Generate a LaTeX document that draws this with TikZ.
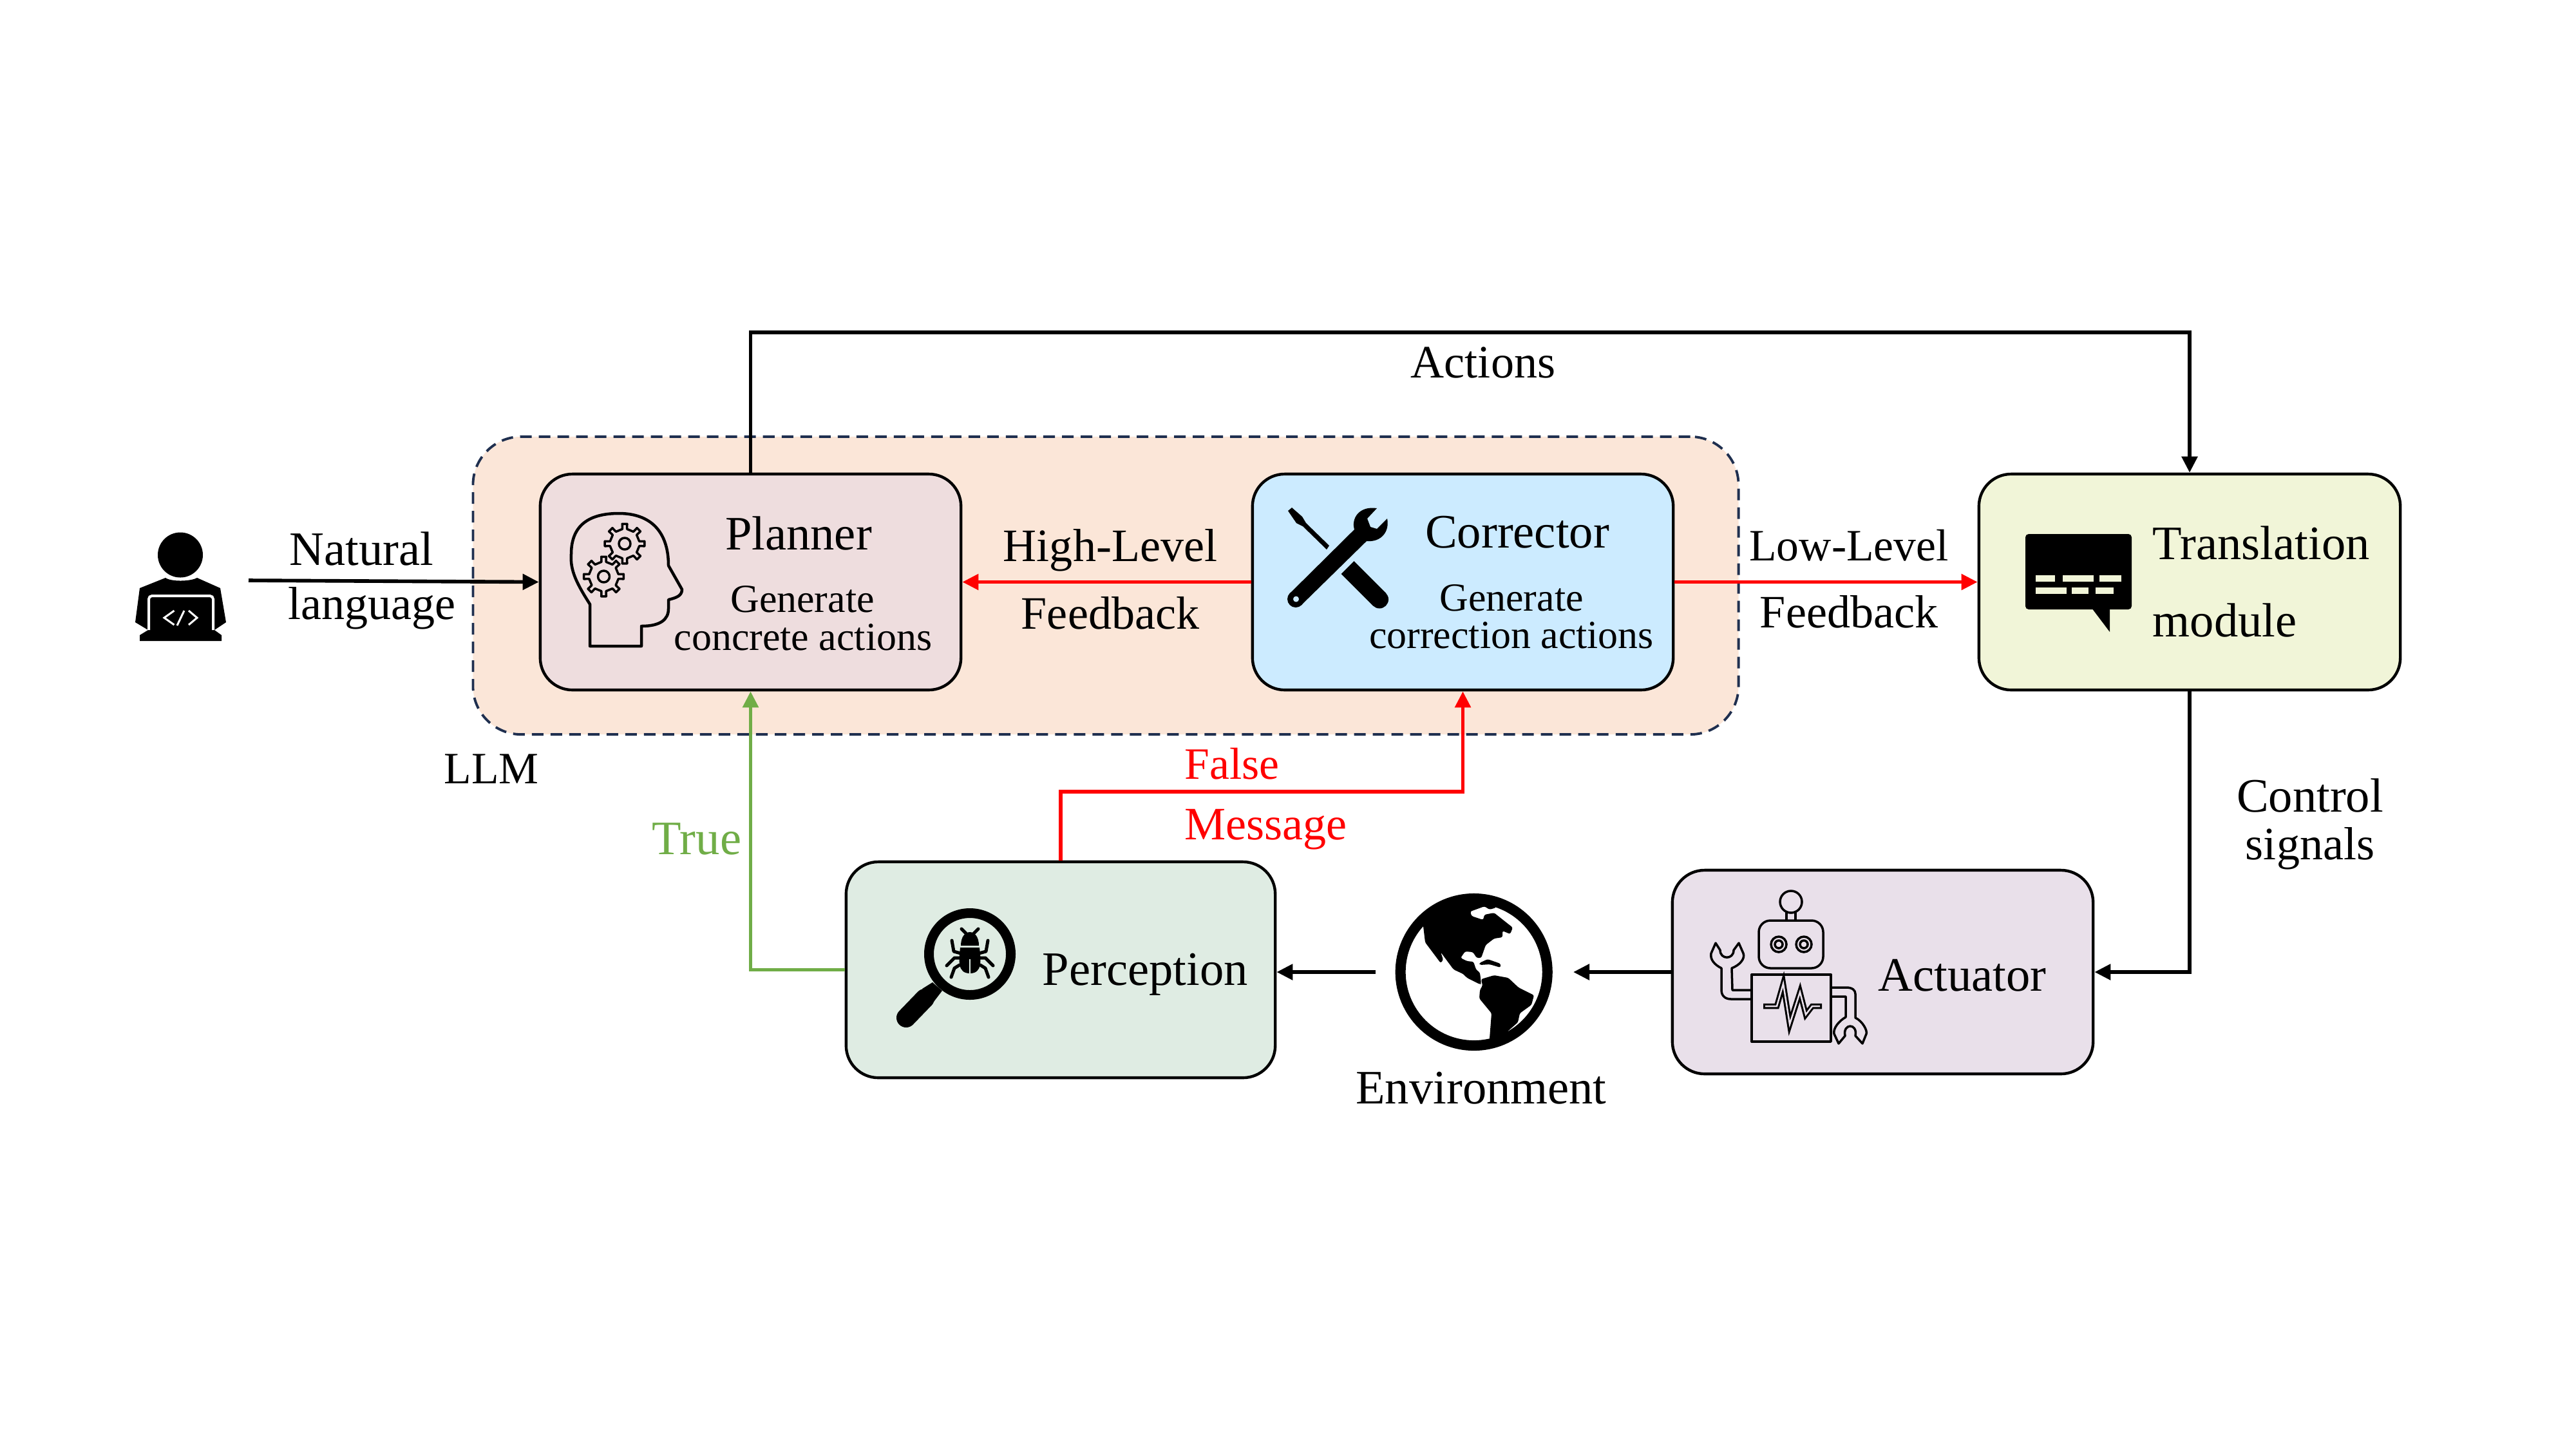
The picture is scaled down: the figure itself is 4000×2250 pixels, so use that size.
\documentclass[tikz,border=0pt]{standalone}
\usepackage{fontspec}
\setmainfont{Liberation Serif}
\usetikzlibrary{arrows.meta}
\definecolor{llmfill}{HTML}{FBE6D8}
\definecolor{llmdash}{HTML}{1F2F4F}
\definecolor{plannerfill}{HTML}{EEDDDE}
\definecolor{correctorfill}{HTML}{CCEBFF}
\definecolor{translationfill}{HTML}{F1F5D8}
\definecolor{perceptionfill}{HTML}{DFECE3}
\definecolor{actuatorfill}{HTML}{E9E0EA}
\definecolor{truegreen}{HTML}{70AD47}
\newcommand{\gearicon}[2]{%
    \draw[iconline, fill=plannerfill] ([shift={(#1,#2)}]-9:23)
        \foreach \a in {0,45,...,315} {
            -- ([shift={(#1,#2)}]\a-9:23) -- ([shift={(#1,#2)}]\a-7:31)
            -- ([shift={(#1,#2)}]\a+7:31) -- ([shift={(#1,#2)}]\a+9:23)
        } -- cycle;
    \draw[iconline] (#1,#2) circle (9);
}
\begin{document}
\begin{tikzpicture}[x=0.01cm, y=-0.01cm,
    blockbox/.style={draw, line width=1.25pt, rounded corners=0.5cm, minimum width=6.53cm, minimum height=3.35cm},
    bigtext/.style={font=\fontsize{21.2}{25}\selectfont, anchor=base, inner sep=0pt, yshift=-0.025cm},
    midtext/.style={bigtext, font=\fontsize{20.5}{25}\selectfont},
    lowtext/.style={bigtext, font=\fontsize{19.8}{25}\selectfont},
    smalltext/.style={font=\fontsize{17.6}{21}\selectfont, anchor=base, inner sep=0pt, yshift=-0.025cm},
    flow/.style={line width=1.6pt, -{Triangle[length=0.25cm, width=0.24cm]}},
    iconline/.style={line width=0.035cm, line join=round}]
    \useasboundingbox (0,0) rectangle (4000,2250);

    % LLM group
    \node[draw=llmdash, fill=llmfill, line width=1.1pt, rounded corners=0.75cm, dash pattern=on 0.18cm off 0.11cm, minimum width=19.64cm, minimum height=4.62cm] (llm) at (1717,909) {};
    \node[lowtext] (llmlabel) at (763,1214) {LLM};

    % Blocks
    \node[blockbox, fill=plannerfill] (planner) at (1165.5,903.5) {};
    \node[blockbox, fill=correctorfill] (corrector) at (2271.5,903.5) {};
    \node[blockbox, fill=translationfill, minimum width=6.54cm] (translation) at (3400,903.5) {};
    \node[blockbox, fill=perceptionfill, minimum width=6.66cm] (perception) at (1647,1505.5) {};
    \node[blockbox, fill=actuatorfill, minimum height=3.16cm] (actuator) at (2923.5,1509) {};

    % Block texts
    \node[bigtext] (plannertitle) at (1240,851) {Planner};
    \node[smalltext] (plannersub) at (1246,948) {Generate};
    \node[smalltext] (plannersubb) at (1247,1007) {concrete actions};
    \node[bigtext] (correctortitle) at (2356,848) {Corrector};
    \node[smalltext] (correctorsub) at (2347,946) {Generate};
    \node[smalltext] (correctorsubb) at (2347,1004) {correction actions};
    \node[bigtext, anchor=base west] (translationa) at (3342,866) {Translation};
    \node[bigtext, anchor=base west] (translationb) at (3342,986) {module};
    \node[bigtext, anchor=base west] (perceptionlabel) at (1618,1527) {Perception};
    \node[bigtext] (actuatorlabel) at (3047,1536) {Actuator};

    % User icon
    \fill (280,861.5) ellipse (35 and 35);
    \fill (257,897) .. controls (265,903) and (295,903) .. (306,897) -- (342,913) -- (351,966) -- (333,978)
        -- (344,986) -- (344,995) -- (217,995) -- (217,986) -- (230,978) -- (210,966) -- (217,913) -- cycle;
    \draw[white, line width=0.04cm, rounded corners=0.05cm] (231,978) -- (231,925) -- (331,925) -- (331,978);
    \draw[white, line width=0.03cm] (270.5,948) -- (255,959) -- (270.5,970);
    \draw[white, line width=0.03cm] (293,948) -- (306,959) -- (293,970);
    \draw[white, line width=0.03cm] (286,948) -- (275,971);
    \coordinate (userout) at (386,901);

    % Head icon
    \draw[iconline, line width=0.045cm] (916,1003) -- (916,938) .. controls (895,905) and (885,885) .. (887,860)
        .. controls (887,815) and (915,797) .. (961,797) .. controls (1010,797) and (1038,825) .. (1038,878)
        -- (1059,915) .. controls (1059,925) and (1050,928) .. (1038,931) -- (1038,945)
        .. controls (1038,962) and (1025,972) .. (996,972) -- (996,1003) -- cycle;
    \gearicon{970}{844}
    \gearicon{937.5}{895}

    % Tools icon
    \fill (2006,788) -- (2022,802) -- (2028,812) -- (2064,847) -- (2060,853) -- (2023,817) -- (2013,812) -- (2000,793) -- cycle;
    \draw[line width=0.28cm] (2092.5,881) -- (2142,930.5);
    \fill (2142,930.5) circle (14);
    \fill (2138,789) -- (2123,805) -- (2128,818) -- (2138,821) -- (2154,805) .. controls (2158,825) and (2145,842) .. (2122,840)
        -- (2021,939) -- (2003,921) -- (2103,822) .. controls (2098,805) and (2110,785) .. (2138,789) -- cycle;
    \fill (2012,930) circle (13);
    \fill[correctorfill] (2012.5,930) circle (4.5);

    % Speech bubble icon
    \fill[rounded corners=0.05cm] (3145,829) rectangle (3310,946);
    \fill (3245,940) -- (3276,981) -- (3276,940) -- cycle;
    \foreach \xa/\xb/\ya/\yb in {3161/3191/893/903, 3203/3251/893/903, 3260/3294/893/903, 3161/3209/912/922, 3217/3243/912/922, 3254/3282/912/922}
        \fill[translationfill] (\xa,\ya) rectangle (\xb,\yb);

    % Magnifier icon
    \draw[line width=0.15cm] (1506,1481) circle (63.5);
    \fill (1448,1525) -- (1463,1538) -- (1450,1555) -- (1432,1535) -- cycle;
    \draw[line width=0.3cm, line cap=round] (1407,1580) -- (1436,1550);
    % bug
    \fill (1492,1468) .. controls (1492,1455) and (1498,1447) .. (1506,1447) .. controls (1514,1447) and (1520,1455) .. (1520,1468) -- cycle;
    \fill (1491,1471) -- (1521,1471) .. controls (1523,1490) and (1526,1511) .. (1506,1511) .. controls (1486,1511) and (1489,1490) .. (1491,1471) -- cycle;
    \draw[perceptionfill, line width=0.02cm] (1506,1489) -- (1506,1511);
    \foreach \xa/\ya/\xb/\yb/\xc/\yc in {1493/1442/1500/1449/1500/1449, 1519/1442/1512/1449/1512/1449,
        1478/1460/1481/1477/1492/1480, 1534/1460/1531/1477/1520/1480,
        1470/1499/1482/1487/1492/1487, 1542/1499/1530/1487/1520/1487,
        1477/1517/1482/1503/1490/1498, 1535/1517/1530/1503/1522/1498}
        \draw[line width=0.05cm, line cap=round, line join=round] (\xa,\ya) -- (\xb,\yb) -- (\xc,\yc);

    % Globe icon
    \fill[rounded corners=0.025cm] (2210,1438) -- (2213,1463) -- (2237,1495) -- (2241,1490) -- (2237,1478) -- (2257,1505)
        -- (2272,1512) -- (2278,1518) -- (2298,1528) -- (2300,1527) -- (2298,1510) -- (2292,1505) -- (2288,1493)
        -- (2278,1492) -- (2268,1487) -- (2275,1477) -- (2287,1478) -- (2293,1487) -- (2300,1487) -- (2307,1467)
        -- (2320,1457) -- (2333,1455) -- (2333,1445) -- (2345,1450) -- (2349,1440) -- (2320,1417) -- (2305,1420)
        -- (2303,1428) -- (2285,1422) -- (2283,1415) -- (2305,1407) -- (2313,1412) -- (2323,1409) -- (2323,1395)
        -- (2250,1395) -- (2210,1420) -- cycle;
    \fill[rounded corners=0.025cm] (2297,1495) -- (2310,1489) -- (2330,1496) -- (2330,1502) -- (2313,1497) -- (2298,1498) -- cycle;
    \fill[rounded corners=0.025cm] (2300,1520) -- (2320,1514) -- (2342,1518) -- (2358,1533) -- (2382,1545) -- (2378,1560)
        -- (2360,1573) -- (2357,1587) -- (2340,1602) -- (2335,1620) -- (2313,1625) -- (2313,1612) -- (2316,1573)
        -- (2297,1550) -- (2298,1537) -- (2302,1530) -- cycle;
    \node[circle, draw, line width=0.16cm, minimum size=2.28cm] (globe) at (2288.7,1509) {};
    \coordinate (envin) at (2443,1509);
    \coordinate (envout) at (2136,1509);
    \node[bigtext] (envlabel) at (2300,1711) {Environment};

    % Robot icon
    \draw[iconline] (2781,1400) circle (17);
    \draw[iconline] (2774,1414) -- (2774,1429);
    \draw[iconline] (2788,1414) -- (2788,1429);
    \draw[iconline, rounded corners=0.18cm] (2731,1429) rectangle (2831,1503);
    \draw[iconline] (2762,1466) circle (12) circle (6);
    \draw[iconline] (2801,1466) circle (12) circle (6);
    \draw[iconline] (2720,1513) rectangle (2843,1617);
    \draw[iconline] (2720,1537) -- (2690,1537) -- (2689,1503) .. controls (2702,1498) and (2710,1488) .. (2707,1480)
        -- (2700,1464) -- (2692,1475) .. controls (2692,1490) and (2671,1490) .. (2671,1475) -- (2664,1464) -- (2657,1480)
        .. controls (2655,1490) and (2663,1498) .. (2673,1503) -- (2673,1537) .. controls (2673,1547) and (2680,1551) .. (2688,1551) -- (2720,1551);
    \draw[iconline] (2843,1533) -- (2867,1533) .. controls (2876,1533) and (2881,1537) .. (2881,1543) -- (2881,1580)
        .. controls (2892,1585) and (2900,1600) .. (2898,1605) -- (2892,1620) -- (2881,1608)
        .. controls (2885,1588) and (2861,1588) .. (2865,1608) -- (2855,1620) -- (2848,1605)
        .. controls (2846,1597) and (2855,1585) .. (2866,1579) -- (2866,1547) -- (2843,1547);
    \draw[line width=0.085cm, miter limit=10] (2738,1562) -- (2759,1562) -- (2769,1527) -- (2779,1590) -- (2795,1540) -- (2804,1575) -- (2814,1562) -- (2829,1562);
    \draw[actuatorfill, line width=0.025cm, miter limit=10] (2741,1562) -- (2759,1562) -- (2769,1527) -- (2779,1590) -- (2795,1540) -- (2804,1575) -- (2814,1562) -- (2826,1562);

    % Arrows
    \draw[flow] (userout) -- (planner.west);
    \draw[flow, red] (corrector.west) -- (planner.east);
    \draw[flow, red] (corrector.east) -- (translation.west);
    \draw[flow] (planner.north) -- ++(0,-218) -| (translation.north);
    \draw[flow] (translation.south) |- (actuator.east);
    \draw[flow] (actuator.west) -- (envin);
    \draw[flow] (envout) -- (envout -| perception.east);
    \draw[flow, truegreen] (perception.west) -| (planner.south);
    \draw[flow, red] (perception.north) |- (1900,1229) -| (corrector.south);

    % Arrow labels
    \node[bigtext, anchor=base west] (naturala) at (449,875) {Natural};
    \node[midtext, anchor=base west] (naturalb) at (447,959) {language};
    \node[midtext] (higha) at (1724,869) {High-Level};
    \node[midtext] (highb) at (1724,974) {Feedback};
    \node[lowtext] (lowa) at (2871,868) {Low-Level};
    \node[midtext] (lowb) at (2871,972) {Feedback};
    \node[midtext] (actionslabel) at (2303,584) {Actions};
    \node[bigtext, truegreen] (truelabel) at (1082,1324) {True};
    \node[lowtext, red, anchor=base west] (falsea) at (1839,1207) {False};
    \node[midtext, red, anchor=base west] (falseb) at (1839,1301) {Message};
    \node[bigtext] (controla) at (3587,1258) {Control};
    \node[midtext] (controlb) at (3587,1332) {signals};
\end{tikzpicture}
\end{document}
